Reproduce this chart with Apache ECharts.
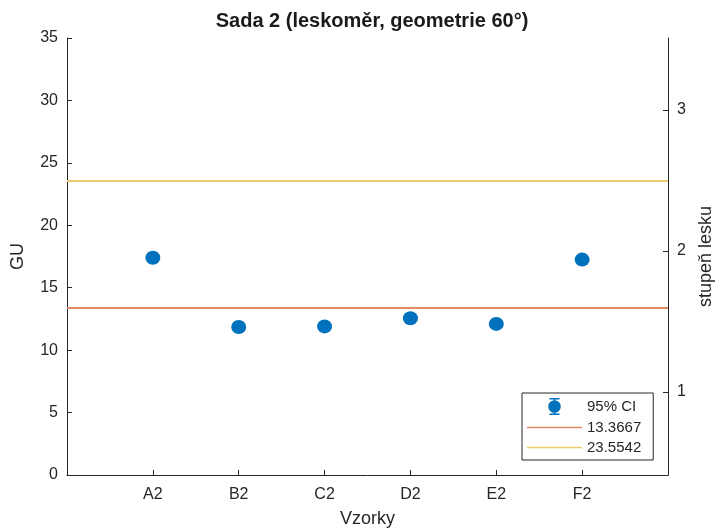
<!DOCTYPE html>
<html>
<head>
<meta charset="utf-8">
<script src="https://cdn.jsdelivr.net/npm/echarts@6/dist/echarts.min.js"></script>
<style>html,body{margin:0;padding:0;background:#fff}#c{width:715px;height:529px}</style>
</head>
<body>
<div id="c"></div>
<script>
const categories = ['A2', 'B2', 'C2', 'D2', 'E2', 'F2'];
const gu = [17.4, 11.85, 11.9, 12.55, 12.1, 17.25];
const thresholds = [13.3667, 23.5542];
const thresholdNames = ['13.3667', '23.5542'];
const leftTicks = [0, 5, 10, 15, 20, 25, 30, 35];
const rightTicks = [1, 2, 3];

const FONT = 'Liberation Sans, Arial, sans-serif';
const AX = '#262626';
const chart = echarts.init(document.getElementById('c'));
const xPos = categories.map((c, i) => i + 1);

const ciIcon = 'path://M3,0 H13 V1.6 H3 Z M7.2,0 H8.8 V17 H7.2 Z M3,15.4 H13 V17 H3 Z M8,2.2 A6.3,6.3 0 1,1 7.99,2.2 Z';
const lineIcon = 'path://M0,0 H55 V1.6 H0 Z';

chart.setOption({
  animation: false,
  backgroundColor: '#fff',
  title: {
    text: 'Sada 2 (leskoměr, geometrie 60°)',
    left: 367, top: 6, textAlign: 'center',
    textStyle: { fontFamily: FONT, fontSize: 20, fontWeight: 'bold', color: '#1a1a1a' }
  },
  grid: { left: 67, right: 47, top: 38, bottom: 54, containLabel: false, outerBoundsMode: 'none' },
  legend: {
    orient: 'vertical', left: 522, top: 393,
    backgroundColor: '#fff', borderColor: AX, borderWidth: 1, borderRadius: 0,
    padding: [5, 12, 5, 5], itemGap: 5, itemWidth: 55, itemHeight: 17,
    textStyle: { fontFamily: FONT, fontSize: 15, color: AX },
    data: [
      { name: '95% CI', icon: ciIcon },
      { name: thresholdNames[0], icon: lineIcon },
      { name: thresholdNames[1], icon: lineIcon }
    ]
  },
  xAxis: {
    type: 'value', min: 0, max: 7, interval: 1,
    name: 'Vzorky', nameLocation: 'middle', nameGap: 35,
    nameTextStyle: { fontFamily: FONT, fontSize: 18, color: AX },
    axisLine: { onZero: false, lineStyle: { color: AX, width: 1 } },
    axisTick: { inside: true, length: 5, lineStyle: { color: AX }, customValues: xPos },
    axisLabel: { fontFamily: FONT, fontSize: 16, color: AX, margin: 12, customValues: xPos,
      formatter: v => categories[Math.round(v) - 1] || '' },
    splitLine: { show: false }
  },
  yAxis: [
    {
      type: 'value', min: 0, max: 35, interval: 5, position: 'left',
      name: 'GU', nameLocation: 'middle', nameGap: 40, nameRotate: 90,
      nameTextStyle: { fontFamily: FONT, fontSize: 18, color: AX },
      axisLine: { show: true, lineStyle: { color: AX, width: 1 } },
      axisTick: { show: true, inside: true, length: 5, lineStyle: { color: AX }, customValues: leftTicks },
      axisLabel: { fontFamily: FONT, fontSize: 16, color: AX, margin: 9, customValues: leftTicks },
      splitLine: { show: false }
    },
    {
      type: 'value', min: 0.41, max: 3.51, position: 'right',
      name: 'stupeň lesku', nameLocation: 'middle', nameGap: 22, nameRotate: 90,
      nameTextStyle: { fontFamily: FONT, fontSize: 18, color: AX },
      axisLine: { show: true, lineStyle: { color: AX, width: 1 } },
      axisTick: { show: true, inside: true, length: 5, lineStyle: { color: AX }, customValues: rightTicks },
      axisLabel: { fontFamily: FONT, fontSize: 16, color: AX, margin: 9, customValues: rightTicks },
      splitLine: { show: false }
    }
  ],
  series: [
    {
      name: thresholdNames[0], type: 'line', yAxisIndex: 0, symbol: 'none',
      lineStyle: { color: '#E38A62', width: 2 },
      itemStyle: { color: '#E38A62' },
      data: [[0, thresholds[0]], [7, thresholds[0]]], z: 1
    },
    {
      name: thresholdNames[1], type: 'line', yAxisIndex: 0, symbol: 'none',
      lineStyle: { color: '#EDCB70', width: 2 },
      itemStyle: { color: '#EDCB70' },
      data: [[0, thresholds[1]], [7, thresholds[1]]], z: 1
    },
    {
      name: '95% CI', type: 'scatter', yAxisIndex: 0,
      symbol: 'circle', symbolSize: [15, 14],
      itemStyle: { color: '#0072BD', opacity: 1 },
      data: xPos.map((x, i) => [x, gu[i]]), z: 3
    }
  ]
});
</script>
</body>
</html>
